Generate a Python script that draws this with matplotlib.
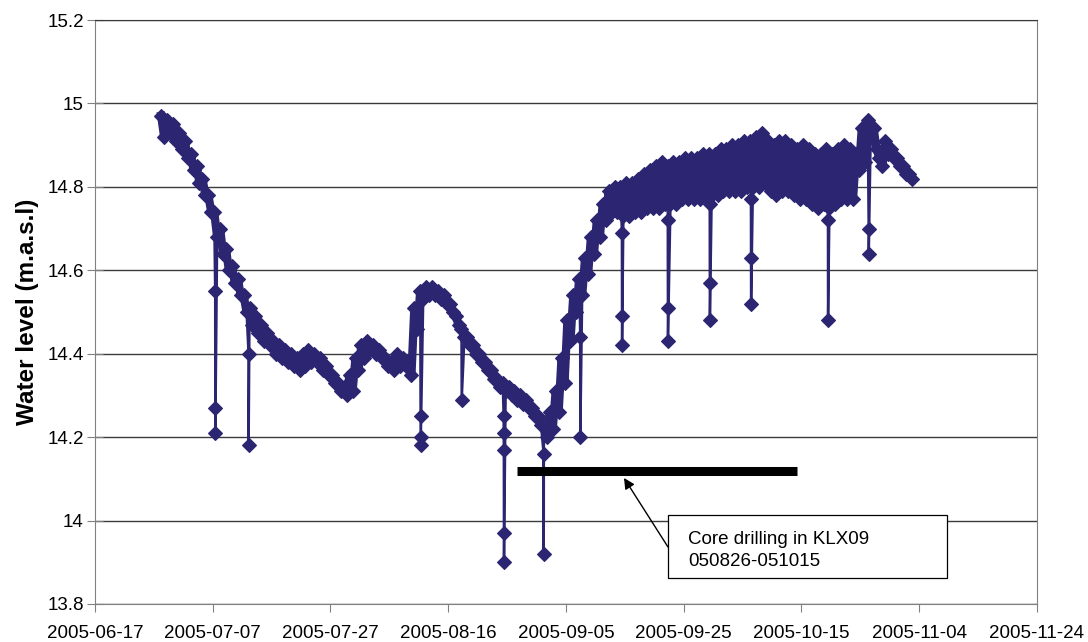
import pandas as pd
import matplotlib
matplotlib.use("Agg")
import matplotlib.pyplot as plt
import matplotlib.dates as mdates
from matplotlib.patches import Rectangle

plt.rcParams['font.family'] = ['Liberation Sans', 'DejaVu Sans']

# water level readings, one high and one low per day starting 2005-06-28
first_day = "2005-06-28"
daily_high = [
    14.97, 14.96, 14.95, 14.93, 14.91, 14.88, 14.85, 14.82, 14.78, 14.74,
    14.70, 14.65, 14.61, 14.58, 14.54, 14.51, 14.49, 14.47, 14.45, 14.43,
    14.42, 14.41, 14.40, 14.39, 14.40, 14.41, 14.40, 14.39, 14.37, 14.35,
    14.33, 14.32, 14.35, 14.39, 14.42, 14.43, 14.42, 14.41, 14.39, 14.38,
    14.40, 14.39, 14.38, 14.51, 14.55, 14.56, 14.56, 14.55, 14.54, 14.52,
    14.49, 14.46, 14.44, 14.42, 14.40, 14.38, 14.36, 14.34, 14.33, 14.32,
    14.31, 14.30, 14.29, 14.27, 14.25, 14.23, 14.26, 14.31, 14.39, 14.48,
    14.54, 14.58, 14.63, 14.68, 14.72, 14.76, 14.79,
    14.80, 14.80, 14.81, 14.81, 14.82, 14.83, 14.84, 14.85, 14.86, 14.85,
    14.86, 14.86, 14.87, 14.87, 14.87, 14.88, 14.88, 14.88, 14.89, 14.89,
    14.90, 14.90, 14.91, 14.91, 14.92, 14.93, 14.91, 14.90, 14.91, 14.91,
    14.90, 14.89, 14.90, 14.89, 14.88, 14.88, 14.89, 14.88, 14.89, 14.90,
    14.89, 14.88, 14.94, 14.96, 14.94, 14.87, 14.91, 14.89, 14.87, 14.85,
    14.83,
]
daily_low = [
    14.92, 14.93, 14.91, 14.89, 14.87, 14.84, 14.81, 14.78, 14.74, 14.68,
    14.64, 14.60, 14.57, 14.54, 14.50, 14.47, 14.45, 14.43, 14.42, 14.40,
    14.39, 14.38, 14.37, 14.36, 14.37, 14.38, 14.38, 14.36, 14.35, 14.33,
    14.31, 14.30, 14.31, 14.36, 14.39, 14.41, 14.40, 14.39, 14.37, 14.36,
    14.37, 14.37, 14.35, 14.46, 14.53, 14.54, 14.54, 14.53, 14.52, 14.50,
    14.47, 14.44, 14.42, 14.40, 14.38, 14.36, 14.34, 14.32, 14.31, 14.30,
    14.29, 14.28, 14.27, 14.25, 14.23, 14.20, 14.22, 14.26, 14.33, 14.43,
    14.50, 14.54, 14.59, 14.64, 14.68, 14.72, 14.74,
    14.74, 14.73, 14.73, 14.74, 14.74, 14.75, 14.75, 14.75, 14.76, 14.76,
    14.76, 14.77, 14.77, 14.77, 14.77, 14.78, 14.78, 14.78, 14.79, 14.79,
    14.79, 14.79, 14.80, 14.80, 14.80, 14.81, 14.79, 14.78, 14.79, 14.79,
    14.78, 14.77, 14.77, 14.76, 14.75, 14.76, 14.75, 14.76, 14.77, 14.77,
    14.77, 14.84, 14.86, 14.92, 14.89, 14.85, 14.88, 14.87, 14.85, 14.83,
    14.82,
]

# short drops in the record
spike_times = [
    "2005-07-07 10:00", "2005-07-13 02:00", "2005-08-11 07:00",
    "2005-08-18 07:00", "2005-08-25 10:00", "2005-09-01 05:00",
    "2005-09-07 10:00", "2005-09-14 12:00", "2005-09-22 07:00",
    "2005-09-29 10:00", "2005-10-06 10:00", "2005-10-19 12:00",
    "2005-10-26 10:00",
]
spike_values = [
    [14.55, 14.27, 14.21], [14.40, 14.18], [14.25, 14.20, 14.18],
    [14.29], [14.25, 14.21, 14.17, 13.97, 13.90], [14.16, 13.92],
    [14.44, 14.20], [14.69, 14.49, 14.42], [14.72, 14.51, 14.43],
    [14.76, 14.57, 14.48], [14.77, 14.63, 14.52], [14.72, 14.48],
    [14.70, 14.64],
]

drill_start = "2005-08-27 18:00"
drill_end = "2005-10-14 04:00"
drill_level = 14.12

days = pd.date_range(first_day, periods=len(daily_high), freq="D")
times = list(days + pd.Timedelta(hours=6)) + list(days + pd.Timedelta(hours=18))
levels = daily_high + daily_low
daily = pd.Series(levels, index=times).sort_index()
for st, vals in zip(spike_times, spike_values):
    for i, val in enumerate(vals):
        times.append(pd.Timestamp(st) + pd.Timedelta(minutes=20 * i))
        levels.append(val)
series = pd.Series(levels, index=times).sort_index()

navy = "#2B2572"

fig = plt.figure(figsize=(10.88, 6.42), dpi=100)
ax = fig.add_axes([0.0873, 0.0592, 0.8658, 0.9096])

# thick trace under the markers so the dense record reads as a solid band
ax.plot(daily.index, daily.values, color=navy, lw=6, zorder=2)
ax.plot(series.index, series.values, color=navy, lw=1.8, marker="D",
        ms=7.5, mew=0.8, mec=navy, mfc=navy, zorder=3)

ax.plot([pd.Timestamp(drill_start), pd.Timestamp(drill_end)],
        [drill_level, drill_level], color="black", lw=6.5,
        solid_capstyle="butt", zorder=4)

# annotation box
ax.add_patch(Rectangle((0.608, 0.044), 0.296, 0.108, transform=ax.transAxes,
                       fc="white", ec="black", lw=0.9, zorder=5))
ax.text(0.63, 0.110, "Core drilling in KLX09", transform=ax.transAxes,
        fontsize=13.5, va="center", ha="left", zorder=6)
ax.text(0.63, 0.072, "050826-051015", transform=ax.transAxes,
        fontsize=13.5, va="center", ha="left", zorder=6)
ax.annotate("", xy=(0.5616, 0.2158), xycoords="axes fraction",
            xytext=(0.6083, 0.0976), textcoords="axes fraction",
            arrowprops=dict(arrowstyle="-|>", color="black", lw=1.0,
                            mutation_scale=16, shrinkA=0, shrinkB=0),
            zorder=6)

ax.set_xlim(pd.Timestamp("2005-06-17"), pd.Timestamp("2005-11-24"))
ax.set_ylim(13.8, 15.2)
ax.set_xticks(pd.date_range("2005-06-17", "2005-11-24", freq="20D"))
ax.xaxis.set_major_formatter(mdates.DateFormatter("%Y-%m-%d"))
yt = [13.8, 14.0, 14.2, 14.4, 14.6, 14.8, 15.0, 15.2]
ax.set_yticks(yt)
ax.set_yticklabels(["%g" % y for y in yt])

ax.yaxis.grid(True, color="#3a3a3a", lw=1.0)
ax.set_axisbelow(True)
for side in ["left", "bottom", "right"]:
    ax.spines[side].set_color("#808080")
ax.spines["top"].set_color("#3a3a3a")
ax.tick_params(axis="both", color="#808080", labelsize=13.5)
ax.tick_params(axis="x", direction="out", length=6, pad=9)
ax.tick_params(axis="y", direction="inout", length=12, pad=2)

ax.set_ylabel("Water level (m.a.s.l)", fontsize=17.5, fontweight="bold",
              labelpad=6)

fig.savefig("out.png", dpi=100)
